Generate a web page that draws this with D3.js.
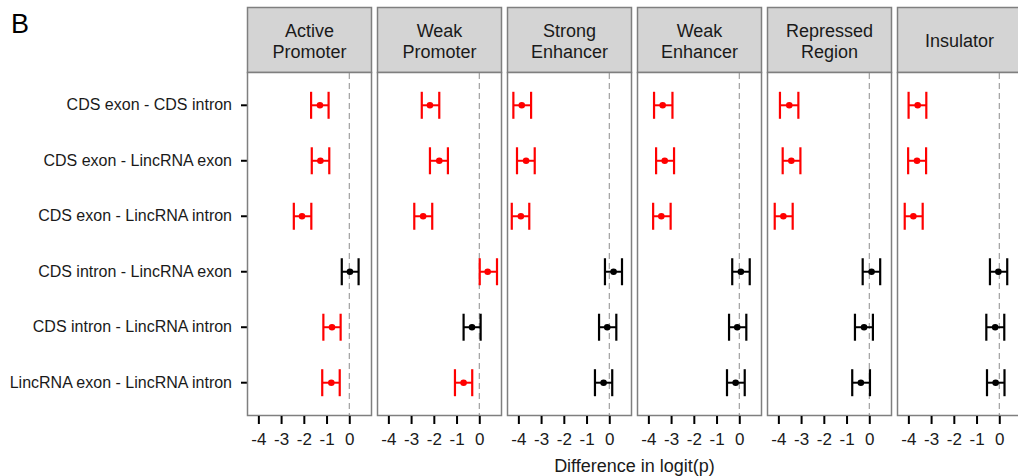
<!DOCTYPE html>
<html>
<head>
<meta charset="utf-8">
<script src="https://cdn.jsdelivr.net/npm/d3@7"></script>
<style>
  html, body { margin: 0; padding: 0; background: #ffffff; }
  svg { display: block; font-family: "Liberation Sans", Arial, Helvetica, sans-serif; }
</style>
</head>
<body>
<svg id="chart" width="1018" height="476"></svg>
<script>
// Pairwise contrasts between genomic element classes
const categories = [
  "CDS exon - CDS intron",
  "CDS exon - LincRNA exon",
  "CDS exon - LincRNA intron",
  "CDS intron - LincRNA exon",
  "CDS intron - LincRNA intron",
  "LincRNA exon - LincRNA intron"
];

// Chromatin state facets (strip labels, one line per entry)
const regions = [
  ["Active", "Promoter"],
  ["Weak", "Promoter"],
  ["Strong", "Enhancer"],
  ["Weak", "Enhancer"],
  ["Repressed", "Region"],
  ["Insulator"]
];

// Point estimates: one row per region, one value per contrast
const estimate = [
  [-1.29, -1.27, -2.08,  0.03, -0.76, -0.79],
  [-2.17, -1.76, -2.47,  0.37, -0.32, -0.69],
  [-3.85, -3.66, -3.89,  0.19, -0.09, -0.25],
  [-3.37, -3.28, -3.43,  0.07, -0.09, -0.16],
  [-3.52, -3.43, -3.78,  0.10, -0.23, -0.37],
  [-3.59, -3.62, -3.78, -0.04, -0.18, -0.16]
];

// Lower interval bounds
const lower = [
  [-1.68, -1.65, -2.44, -0.33, -1.14, -1.19],
  [-2.53, -2.17, -2.86,  0.02, -0.69, -1.07],
  [-4.22, -4.06, -4.29, -0.19, -0.45, -0.63],
  [-3.75, -3.66, -3.79, -0.31, -0.45, -0.54],
  [-3.93, -3.81, -4.16, -0.29, -0.63, -0.75],
  [-3.99, -4.01, -4.16, -0.41, -0.57, -0.54]
];

// Upper interval bounds
const upper = [
  [-0.91, -0.88, -1.67,  0.41, -0.38, -0.42],
  [-1.76, -1.38, -2.07,  0.78,  0.06, -0.31],
  [-3.44, -3.28, -3.52,  0.56,  0.31,  0.13],
  [-2.94, -2.87, -3.02,  0.46,  0.31,  0.24],
  [-3.12, -3.03, -3.37,  0.48,  0.16,  0.03],
  [-3.21, -3.22, -3.37,  0.35,  0.22,  0.23]
];

const xTicks = [-4, -3, -2, -1, 0];
const xDomain = [-4.5, 1.0];

const svg = d3.select("#chart");

const panelLeft = 247, panelWidth = 125, panelGap = 5;
const stripTop = 7, stripBottom = 72, panelBottom = 416;
const borderColor = "#7f7f7f";

const x = d3.scaleLinear().domain(xDomain).range([0, panelWidth]);
const y = d3.scalePoint().domain(categories).range([stripBottom, panelBottom]).padding(0.6);

// Panel label
svg.append("text")
  .attr("x", 11).attr("y", 33)
  .attr("font-size", 27)
  .attr("fill", "#000")
  .text("B");

// Row labels and ticks on the left
const yAxis = svg.append("g").attr("transform", `translate(${panelLeft},0)`);
categories.forEach(c => {
  yAxis.append("line")
    .attr("x1", -6).attr("x2", 0)
    .attr("y1", y(c)).attr("y2", y(c))
    .attr("stroke", "#000").attr("stroke-width", 2);
  yAxis.append("text")
    .attr("x", -15).attr("y", y(c) - 0.5)
    .attr("dy", "0.35em")
    .attr("text-anchor", "end")
    .attr("font-size", 16)
    .attr("fill", "#1a1a1a")
    .text(c);
});

regions.forEach((label, i) => {
  const g = svg.append("g").attr("transform", `translate(${panelLeft + i * (panelWidth + panelGap)},0)`);

  // strip
  g.append("rect")
    .attr("x", 0.5).attr("y", stripTop + 0.5)
    .attr("width", panelWidth - 1).attr("height", stripBottom - stripTop)
    .attr("fill", "#d4d4d4")
    .attr("stroke", borderColor).attr("stroke-width", 1.5);
  const st = g.append("text")
    .attr("text-anchor", "middle")
    .attr("font-size", 18)
    .attr("fill", "#1a1a1a");
  const midY = (stripTop + stripBottom) / 2 + 1.5;
  label.forEach((line, k) => {
    st.append("tspan")
      .attr("x", panelWidth / 2)
      .attr("y", midY + (k - (label.length - 1) / 2) * 21)
      .attr("dy", "0.35em")
      .text(line);
  });

  // panel background and border
  g.append("rect")
    .attr("x", 0.5).attr("y", stripBottom + 0.5)
    .attr("width", panelWidth - 1).attr("height", panelBottom - stripBottom - 1)
    .attr("fill", "#fff")
    .attr("stroke", borderColor).attr("stroke-width", 1.5);

  // reference line at zero
  g.append("line")
    .attr("x1", x(0)).attr("x2", x(0))
    .attr("y1", stripBottom + 1).attr("y2", panelBottom - 1)
    .attr("stroke", "#8c8c8c").attr("stroke-width", 1)
    .attr("stroke-dasharray", "6,4");

  // intervals
  categories.forEach((c, j) => {
    const lo = lower[i][j], hi = upper[i][j], est = estimate[i][j];
    const col = (lo > 0 || hi < 0) ? "#ff0000" : "#000000";
    const cy = y(c), cap = 13.5;
    g.append("line")
      .attr("x1", x(lo)).attr("x2", x(hi))
      .attr("y1", cy).attr("y2", cy)
      .attr("stroke", col).attr("stroke-width", 2);
    [lo, hi].forEach(v => {
      g.append("line")
        .attr("x1", x(v)).attr("x2", x(v))
        .attr("y1", cy - cap).attr("y2", cy + cap)
        .attr("stroke", col).attr("stroke-width", 2.2);
    });
    g.append("circle")
      .attr("cx", x(est)).attr("cy", cy).attr("r", 3.3)
      .attr("fill", col);
  });

  // x axis
  const ax = g.append("g").attr("transform", `translate(0,${panelBottom})`)
    .call(d3.axisBottom(x).tickValues(xTicks).tickFormat(d => String(d))
      .tickSize(8).tickSizeOuter(0).tickPadding(9));
  ax.select(".domain").remove();
  ax.selectAll(".tick line").attr("stroke", "#000").attr("stroke-width", 2);
  ax.selectAll(".tick text")
    .attr("font-size", 17)
    .attr("fill", "#1a1a1a")
    .attr("font-family", "Liberation Sans, Arial, sans-serif");
});

// x axis title
const totalRight = panelLeft + regions.length * panelWidth + (regions.length - 1) * panelGap;
svg.append("text")
  .attr("x", (panelLeft + totalRight) / 2)
  .attr("y", 472)
  .attr("text-anchor", "middle")
  .attr("font-size", 18)
  .attr("fill", "#1a1a1a")
  .text("Difference in logit(p)");
</script>
</body>
</html>
